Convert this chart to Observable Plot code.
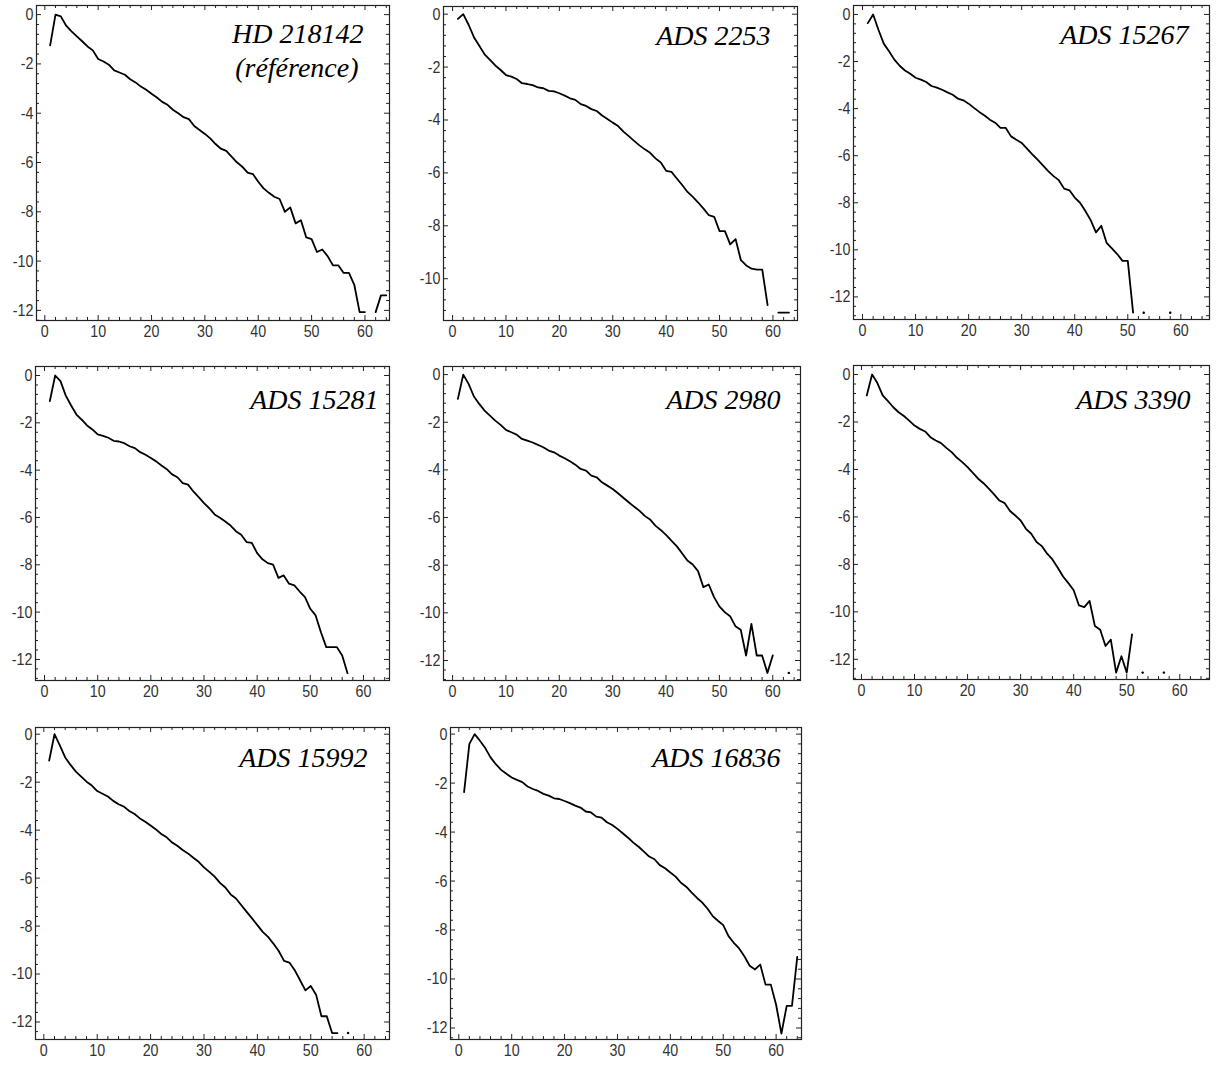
<!DOCTYPE html>
<html><head><meta charset="utf-8">
<script src="https://cdn.jsdelivr.net/npm/d3@7"></script>
<script src="https://cdn.jsdelivr.net/npm/@observablehq/plot@0.6"></script>
<style>
body{margin:0;background:#fff;}
#root{position:relative;width:1218px;height:1065px;overflow:hidden;background:#fff;}
#root svg{position:absolute;}
#root g.ttl text{font-family:"Liberation Serif","Times New Roman",serif;font-style:italic;}
#root g[aria-label$="tick label"] text{font-family:"Liberation Sans",Arial,sans-serif;font-size:17px;}
</style></head><body><div id="root"></div>
<script>
// ---- data: y values for x = 1, 2, 3, ... (null = no value) ----
const titles = ["HD 218142", "ADS 2253", "ADS 15267", "ADS 15281", "ADS 2980", "ADS 3390", "ADS 15992", "ADS 16836"];
const subtitles = ["(référence)", "", "", "", "", "", "", ""];

const hd218142 = [-1.25, 0, -0.07, -0.45, -0.68, -0.88, -1.08, -1.29, -1.45, -1.80,
  -1.9, -2.03, -2.26, -2.35, -2.44, -2.62, -2.75, -2.92, -3.05, -3.21,
  -3.36, -3.54, -3.66, -3.86, -4.0, -4.16, -4.24, -4.52, -4.68, -4.84,
  -5.02, -5.25, -5.44, -5.53, -5.76, -5.99, -6.17, -6.41, -6.47, -6.78,
  -7.05, -7.23, -7.39, -7.48, -8.0, -7.82, -8.47, -8.34, -9.04, -9.11,
  -9.63, -9.53, -9.8, -10.17, -10.17, -10.48, -10.48, -10.96, -12.07, -12.07,
  null, -12.07, -11.39, -11.39];
const ads2253 = [-0.18, 0, -0.4, -0.87, -1.19, -1.52, -1.73, -1.94, -2.11, -2.30,
  -2.36, -2.45, -2.61, -2.64, -2.68, -2.77, -2.8, -2.9, -2.92, -2.99,
  -3.08, -3.18, -3.24, -3.40, -3.47, -3.59, -3.66, -3.83, -3.96, -4.10,
  -4.23, -4.44, -4.61, -4.79, -4.96, -5.11, -5.24, -5.45, -5.61, -5.92,
  -5.96, -6.21, -6.46, -6.72, -6.91, -7.12, -7.35, -7.6, -7.66, -8.2,
  -8.2, -8.7, -8.5, -9.3, -9.5, -9.62, -9.66, -9.66, -11.0, null,
  -11.28, -11.28, -11.28];
const ads15267 = [-0.37, 0, -0.65, -1.24, -1.56, -1.92, -2.18, -2.38, -2.52, -2.69,
  -2.77, -2.87, -3.04, -3.11, -3.2, -3.31, -3.41, -3.58, -3.65, -3.79,
  -3.97, -4.14, -4.29, -4.47, -4.6, -4.82, -4.82, -5.18, -5.32, -5.46,
  -5.7, -5.94, -6.17, -6.41, -6.66, -6.87, -7.04, -7.4, -7.47, -7.78,
  -8.0, -8.35, -8.74, -9.26, -8.98, -9.7, -9.94, -10.18, -10.47, -10.47,
  -12.67, null, -12.67, null, null, null, null, -12.67];
const ads15281 = [-1.08, 0, -0.24, -0.85, -1.27, -1.65, -1.87, -2.11, -2.28, -2.49,
  -2.55, -2.63, -2.76, -2.79, -2.86, -2.99, -3.07, -3.24, -3.35, -3.49,
  -3.63, -3.8, -3.96, -4.18, -4.3, -4.55, -4.61, -4.9, -5.14, -5.39,
  -5.61, -5.87, -6.01, -6.17, -6.34, -6.58, -6.73, -7.04, -7.07, -7.51,
  -7.77, -7.93, -7.99, -8.55, -8.45, -8.8, -8.87, -9.13, -9.37, -9.86,
  -10.14, -10.85, -11.48, -11.48, -11.48, -11.83, -12.58];
const ads2980 = [-1.02, 0, -0.39, -0.92, -1.23, -1.51, -1.72, -1.93, -2.11, -2.32,
  -2.42, -2.52, -2.7, -2.77, -2.85, -2.95, -3.05, -3.19, -3.26, -3.4,
  -3.51, -3.64, -3.78, -3.96, -4.03, -4.24, -4.31, -4.52, -4.66, -4.8,
  -4.98, -5.17, -5.36, -5.54, -5.71, -5.93, -6.08, -6.34, -6.52, -6.73,
  -6.97, -7.2, -7.5, -7.8, -7.97, -8.25, -8.92, -8.81, -9.34, -9.73,
  -9.97, -10.14, -10.56, -10.71, -11.79, -10.46, -11.79, -11.79, -12.52, -11.79,
  null, null, -12.52];
const ads3390 = [-0.88, 0, -0.36, -0.88, -1.12, -1.38, -1.59, -1.75, -1.94, -2.15,
  -2.29, -2.4, -2.64, -2.78, -2.89, -3.09, -3.27, -3.51, -3.69, -3.9,
  -4.14, -4.39, -4.58, -4.81, -5.05, -5.31, -5.42, -5.75, -5.94, -6.15,
  -6.5, -6.71, -7.06, -7.23, -7.55, -7.79, -8.14, -8.51, -8.79, -9.09,
  -9.73, -9.8, -9.54, -10.6, -10.75, -11.44, -11.17, -12.56, -11.87, -12.56,
  -10.95, null, -12.56, null, null, null, -12.56];
const ads15992 = [-1.1, 0, -0.47, -0.97, -1.28, -1.56, -1.77, -1.98, -2.14, -2.37,
  -2.48, -2.6, -2.78, -2.92, -3.02, -3.2, -3.33, -3.51, -3.65, -3.81,
  -3.97, -4.16, -4.3, -4.51, -4.65, -4.83, -4.97, -5.15, -5.32, -5.55,
  -5.74, -5.94, -6.2, -6.39, -6.68, -6.85, -7.13, -7.41, -7.68, -7.96,
  -8.24, -8.45, -8.73, -9.04, -9.45, -9.52, -9.84, -10.26, -10.68, -10.5,
  -10.86, -11.76, -11.76, -12.46, -12.46, null, -12.46];
const ads16836 = [-2.37, -0.4, 0, -0.27, -0.57, -0.95, -1.23, -1.46, -1.62, -1.77,
  -1.87, -1.96, -2.14, -2.24, -2.32, -2.44, -2.51, -2.62, -2.65, -2.73,
  -2.82, -2.92, -3.0, -3.16, -3.2, -3.37, -3.41, -3.6, -3.71, -3.87,
  -4.05, -4.23, -4.43, -4.6, -4.8, -5.0, -5.11, -5.35, -5.48, -5.65,
  -5.82, -6.07, -6.23, -6.46, -6.68, -6.87, -7.12, -7.43, -7.62, -7.8,
  -8.25, -8.52, -8.75, -9.07, -9.46, -9.61, -9.41, -10.23, -10.23, -11.05,
  -12.23, -11.1, -11.1, -9.1];

const series = [hd218142, ads2253, ads15267, ads15281, ads2980, ads3390, ads15992, ads16836];
const xMajorTicks = [0, 10, 20, 30, 40, 50, 60];
const yMajorTicks = [0, -2, -4, -6, -8, -10, -12];

// ---- layout (pixel frame boxes, axis ranges, title offsets) ----
const layout = [
  {L: 36, R: 389, T: 5, B: 320, xd: [-1.56, 64.6], yd: [-12.41, 0.37], tdx: 26, tdy: 37},
  {L: 443, R: 797, T: 6, B: 320, xd: [-1.7, 64.6], yd: [-11.58, 0.29], tdx: 27, tdy: 38},
  {L: 853, R: 1209, T: 5, B: 319, xd: [-1.7, 65.4], yd: [-12.96, 0.38], tdx: 21, tdy: 38},
  {L: 35, R: 389, T: 366, B: 680, xd: [-1.7, 64.9], yd: [-12.89, 0.38], tdx: 11, tdy: 42},
  {L: 443, R: 800, T: 366, B: 680, xd: [-1.7, 65.2], yd: [-12.84, 0.34], tdx: 20, tdy: 42},
  {L: 853, R: 1209, T: 365, B: 679, xd: [-1.5, 65.6], yd: [-12.85, 0.38], tdx: 19, tdy: 43},
  {L: 35, R: 389, T: 727, B: 1039, xd: [-1.56, 64.75], yd: [-12.73, 0.28], tdx: 22, tdy: 39},
  {L: 450, R: 801, T: 727, B: 1039, xd: [-1.57, 64.8], yd: [-12.47, 0.27], tdx: 21, tdy: 39}
];

const root = document.getElementById("root");

function within(v, d) { return v >= Math.min(d[0], d[1]) && v <= Math.max(d[0], d[1]); }

series.forEach((values, i) => {
  const g = layout[i];
  const rows = values.map((v, k) => ({x: k + 1, y: v}));
  const isolated = rows.filter((r, k) => r.y != null &&
    (k === 0 || values[k - 1] == null) && (k === values.length - 1 || values[k + 1] == null));
  const fw = g.R - g.L, fh = g.B - g.T;
  const ml = 35, mt = 5, mr = 8, mb = 24;
  const xMaj = xMajorTicks.filter(v => within(v, g.xd));
  const xMin = d3.range(0, 70, 2).filter(v => v % 10 !== 0 && within(v, g.xd));
  const yMaj = yMajorTicks.filter(v => within(v, g.yd));
  const yMin = d3.range(0, 66).map(k => -k * 0.4).filter(v => Math.abs(v / 2 - Math.round(v / 2)) > 1e-6 && within(v, g.yd));
  const titleOpts = {frameAnchor: "top-right", textAnchor: "end", lineAnchor: "bottom",
    fontSize: 28, fill: "black", className: "ttl"};
  const marks = [
    Plot.tickX(xMaj, {insetTop: fh - 5, stroke: "#222"}),
    Plot.tickX(xMaj, {insetBottom: fh - 5, stroke: "#222"}),
    Plot.tickX(xMin, {insetTop: fh - 3, stroke: "#222"}),
    Plot.tickX(xMin, {insetBottom: fh - 3, stroke: "#222"}),
    Plot.tickY(yMaj, {insetRight: fw - 5, stroke: "#222"}),
    Plot.tickY(yMaj, {insetLeft: fw - 5, stroke: "#222"}),
    Plot.tickY(yMin, {insetRight: fw - 3, stroke: "#222"}),
    Plot.tickY(yMin, {insetLeft: fw - 3, stroke: "#222"}),
    Plot.axisX(xMaj, {tickSize: 0, tickPadding: 4, tickFormat: d => String(d), label: null, fill: "#333", fontSize: 17}),
    Plot.axisY(yMaj, {tickSize: 0, tickPadding: 3, tickFormat: d => String(d), label: null, fill: "#333", fontSize: 17}),
    Plot.frame({stroke: "#222", strokeWidth: 1.2}),
    Plot.line(rows, {x: "x", y: "y", stroke: "black", strokeWidth: 1.8}),
    Plot.dot(isolated, {x: "x", y: "y", r: 1.2, fill: "black"}),
    Plot.text([titles[i]], {...titleOpts, dx: -g.tdx, dy: g.tdy})
  ];
  if (subtitles[i]) {
    marks.push(Plot.text([subtitles[i]], {...titleOpts, dx: -(g.tdx + 5), dy: g.tdy + 34}));
  }
  const svg = Plot.plot({
    width: fw + ml + mr, height: fh + mt + mb,
    marginLeft: ml, marginTop: mt, marginRight: mr, marginBottom: mb,
    x: {domain: g.xd}, y: {domain: g.yd},
    style: {background: "transparent", color: "#222"},
    marks
  });
  svg.style.left = (g.L - ml) + "px";
  svg.style.top = (g.T - mt) + "px";
  root.appendChild(svg);
  // narrow the tick-label glyphs (condensed look of the original)
  svg.querySelectorAll('g[aria-label$="tick label"] text').forEach(t => {
    const w = t.getComputedTextLength();
    if (w > 0) {
      t.setAttribute("textLength", (w * 0.84).toFixed(2));
      t.setAttribute("lengthAdjust", "spacingAndGlyphs");
    }
  });
});
</script>
</body></html>
